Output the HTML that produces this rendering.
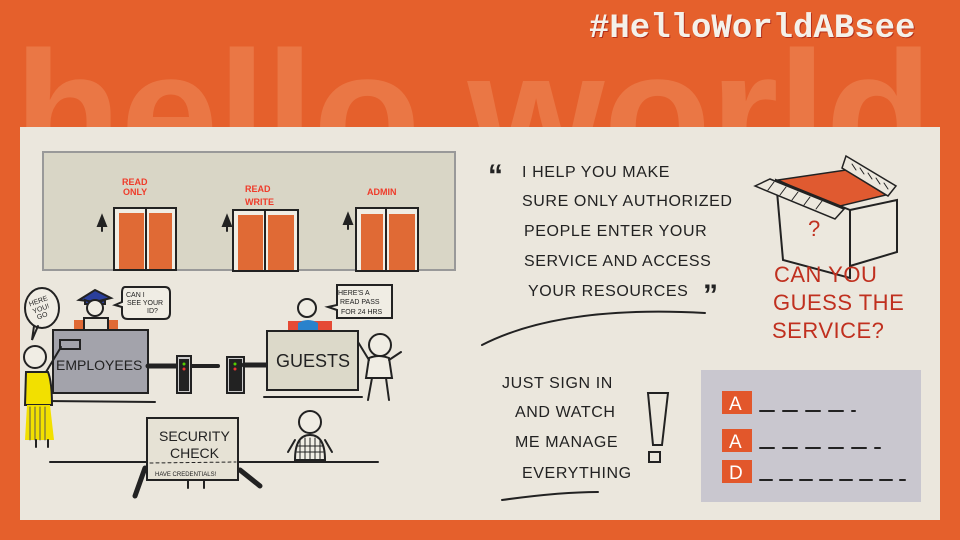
<!DOCTYPE html>
<html><head><meta charset="utf-8"><style>
html,body{margin:0;padding:0;}
body{width:960px;height:540px;overflow:hidden;position:relative;background:#e5602c;font-family:"Liberation Sans",sans-serif;}
.hw{position:absolute;left:14px;top:26px;font:bold 176px/1 "Liberation Sans",sans-serif;color:rgba(255,200,160,0.22);letter-spacing:-1px;white-space:nowrap;}
.tag{position:absolute;left:589px;top:12px;font:bold 34px/1 "Liberation Mono",monospace;color:#f4f1ea;text-shadow:1px 1px 0 #b3301a;}
.panel{position:absolute;left:20px;top:127px;width:920px;height:393px;background:#ebe7dd;}
svg{position:absolute;left:0;top:0;}
svg text{font-family:"Liberation Sans",sans-serif;}
</style></head><body>
<div class="hw">hello world</div>
<div class="tag">#HelloWorldABsee</div>
<div class="panel"></div>
<svg width="960" height="540" viewBox="0 0 960 540">
<g stroke="#222" stroke-width="2" fill="none" stroke-linecap="round">
<rect x="43" y="152" width="412" height="118" fill="#d9d6c6" stroke="#999"/>
<rect x="114" y="208" width="62" height="62" fill="#f0ede4"/>
<rect x="119" y="213" width="25" height="56" fill="#e06a35" stroke="none"/><rect x="149" y="213" width="23" height="56" fill="#e06a35" stroke="none"/>
<line x1="146" y1="208" x2="146" y2="270"/>
<rect x="233" y="210" width="65" height="61" fill="#f0ede4"/>
<rect x="238" y="215" width="25" height="55" fill="#e06a35" stroke="none"/><rect x="268" y="215" width="26" height="55" fill="#e06a35" stroke="none"/>
<line x1="265" y1="210" x2="265" y2="271"/>
<rect x="356" y="208" width="62" height="63" fill="#f0ede4"/>
<rect x="361" y="214" width="22" height="56" fill="#e06a35" stroke="none"/><rect x="389" y="214" width="26" height="56" fill="#e06a35" stroke="none"/>
<line x1="386" y1="208" x2="386" y2="271"/>
<path d="M102 216 l-4 10 h8 z M102 226 v5" fill="#222"/><path d="M227 216 l-4 10 h8 z M227 226 v5" fill="#222"/><path d="M348 214 l-4 10 h8 z M348 224 v5" fill="#222"/>
<ellipse cx="42" cy="308" rx="17" ry="20" fill="#f0ede4"/><path d="M34 326 l-2 14 6-14"/>
<path d="M125 287 h40 q5 0 5 6 v20 q0 6-6 6 h-36 q-6 0-6-6 v-6 l-7-2 7-3 v-9 q0-6 3-6z" fill="#f0ede4"/>
<path d="M337 285 h55 v33 h-55 v-8 l-9-3 9-2z" fill="#f0ede4"/>
<path d="M79 300 l16-10 16 8 -16 4z" fill="#2a3f9c"/><path d="M85 300 q10 4 20 0 v4 h-20z" fill="#2a3f9c"/>
<circle cx="95" cy="308" r="8" fill="#f0ede4"/>
<rect x="74" y="320" width="44" height="12" fill="#e06a35" stroke="none"/><rect x="84" y="318" width="24" height="14" fill="#e8e4d8"/>
<rect x="53" y="330" width="95" height="63" fill="#a3a3ab"/>
<rect x="60" y="340" width="20" height="9" fill="#a3a3ab"/>
<line x1="148" y1="366" x2="176" y2="366" stroke-width="5"/>
<rect x="177" y="356" width="14" height="37" fill="#ccc"/><rect x="180" y="360" width="8" height="30" fill="#222"/><circle cx="184" cy="364" r="1.5" fill="#5c0" stroke="none"/><circle cx="184" cy="369" r="1.5" fill="#e33" stroke="none"/>
<line x1="192" y1="366" x2="218" y2="366" stroke-width="4"/>
<rect x="227" y="357" width="17" height="36" fill="#ccc"/><rect x="230" y="360" width="11" height="30" fill="#222"/><circle cx="235" cy="364" r="1.5" fill="#5c0" stroke="none"/><circle cx="235" cy="369" r="1.5" fill="#e33" stroke="none"/>
<line x1="244" y1="365" x2="267" y2="365" stroke-width="5"/>
<line x1="45" y1="401" x2="155" y2="402"/>
<circle cx="35" cy="357" r="11" fill="#f0ede4"/>
<path d="M26 372 h22 q4 10 4 33 h-27 z" fill="#f2e000"/>
<path d="M27 405 h23 l4 35 h-29 z" fill="#f2e000" stroke="none"/>
<path d="M30 407 v33 M35 407 v33 M40 407 v33 M45 407 v33" stroke="#555" stroke-width="1"/>
<path d="M46 372 l15-25"/><path d="M36 440 v7 M48 440 v7"/>
<circle cx="307" cy="308" r="9" fill="#f0ede4"/>
<rect x="288" y="321" width="44" height="10" fill="#e54a35" stroke="none"/><path d="M298 331 v-8 q10-6 20 0 v8z" fill="#2a82cc" stroke="none"/>
<rect x="267" y="331" width="91" height="59" fill="#dcd9c9"/>
<line x1="264" y1="397" x2="362" y2="397"/>
<circle cx="380" cy="345" r="11" fill="#f0ede4"/>
<path d="M369 358 q10-4 20 0 l3 20 h-26z" fill="#f0ede4"/><path d="M369 360 l-11-18 M389 360 l12-8 M372 378 l-4 22 M386 378 l3 22"/>
<line x1="50" y1="462" x2="378" y2="462"/>
<rect x="147" y="418" width="91" height="62" fill="#e6e2d5"/>
<line x1="150" y1="463" x2="236" y2="462" stroke-dasharray="3 3" stroke-width="1"/>
<path d="M145 468 l-10 28 M240 470 l20 16" stroke-width="5"/><path d="M188 480 v8 M204 480 v8"/>
<circle cx="310" cy="422" r="11" fill="#f0ede4"/>
<path d="M295 460 q0-25 15-25 q15 0 15 25z" fill="#f0ede4"/>
<path d="M300 440 v20 M305 438 v22 M310 438 v22 M315 438 v22 M320 440 v20 M297 446 h26 M297 452 h26" stroke-width="1"/>
<path d="M295 440 l-7 12 M325 440 l7 12"/>
<path d="M482 345 Q560 305 705 313"/>
<path d="M502 500 Q560 492 598 492"/>
<path d="M648 393 h20 l-6 52 h-9 z"/><rect x="649" y="452" width="11" height="10"/>
<g transform="translate(0,8)">
<path d="M778 172 l68-10 40 25 -50 12z" fill="#e05a30" stroke-width="1.5"/>
<path d="M776 172 l7 80 67 18 v-68z" fill="#ece8de"/>
<path d="M850 202 l47-10 v52 l-47 14z" fill="#ece8de"/>
<path d="M755 178 l15-7 74 30 -9 10z" fill="#ece8de" stroke-width="1.5"/>
<path d="M846 148 l50 30 -8 10 -46-28z" fill="#ece8de" stroke-width="1.5"/>
<path d="M768 182 l6-8 M780 187 l6-8 M792 192 l6-8 M804 197 l6-8 M816 201 l6-8 M852 156 l4 6 M860 160 l4 6 M868 165 l4 6 M876 170 l4 6 M884 175 l4 6" stroke-width="1"/>
</g>
<rect x="701" y="370" width="220" height="132" fill="#c9c7cf" stroke="none"/>
<rect x="722" y="391" width="30" height="23" fill="#e2572b" stroke="none"/>
<rect x="722" y="429" width="30" height="23" fill="#e2572b" stroke="none"/>
<rect x="722" y="460" width="30" height="23" fill="#e2572b" stroke="none"/>
<path d="M760 411 h95" stroke-dasharray="14 9"/>
<path d="M760 448 h120" stroke-dasharray="14 9"/>
<path d="M760 480 h145" stroke-dasharray="12 8"/>
</g>
<g fill="#ef3b2a" font-size="9" font-weight="bold">
<text x="122" y="185">READ</text><text x="123" y="195">ONLY</text>
<text x="245" y="192">READ</text><text x="245" y="205">WRITE</text>
<text x="367" y="195">ADMIN</text>
</g>
<g fill="#222" font-size="7">
<text x="126" y="297">CAN I</text><text x="127" y="305">SEE YOUR</text><text x="147" y="313">ID?</text>
<text x="338" y="295">HERE'S A</text><text x="340" y="304">READ PASS</text><text x="341" y="314">FOR 24 HRS</text>
<text x="30" y="303" transform="rotate(-20 40 305)">HERE</text><text x="31" y="311" transform="rotate(-20 40 305)">YOU!</text><text x="33" y="318" transform="rotate(-20 40 305)">GO</text>
<text x="155" y="476" font-size="6">HAVE CREDENTIALS!</text>
</g>
<g fill="#222">
<text x="56" y="370" font-size="14">EMPLOYEES</text>
<text x="276" y="367" font-size="18">GUESTS</text>
<text x="159" y="441" font-size="14">SECURITY</text><text x="170" y="458" font-size="14">CHECK</text>
</g>
<g fill="#222" font-size="16" letter-spacing="0.6">
<text x="488" y="185" font-size="30" font-weight="bold">“</text>
<text x="522" y="177">I HELP YOU MAKE</text>
<text x="522" y="206">SURE ONLY AUTHORIZED</text>
<text x="524" y="236">PEOPLE ENTER YOUR</text>
<text x="524" y="266">SERVICE AND ACCESS</text>
<text x="528" y="296">YOUR RESOURCES</text>
<text x="703" y="305" font-size="30" font-weight="bold">”</text>
<text x="502" y="388">JUST SIGN IN</text>
<text x="515" y="417">AND WATCH</text>
<text x="515" y="447">ME MANAGE</text>
<text x="522" y="478">EVERYTHING</text>
</g>
<g fill="#c0301f" font-size="22" letter-spacing="0.5">
<text x="774" y="282">CAN YOU</text>
<text x="773" y="310">GUESS THE</text>
<text x="772" y="338">SERVICE?</text>
<text x="808" y="236" font-size="22">?</text>
</g>
<g fill="#fff" font-size="19">
<text x="729" y="410">A</text><text x="729" y="448">A</text><text x="729" y="479">D</text>
</g>
</svg>
</body></html>
